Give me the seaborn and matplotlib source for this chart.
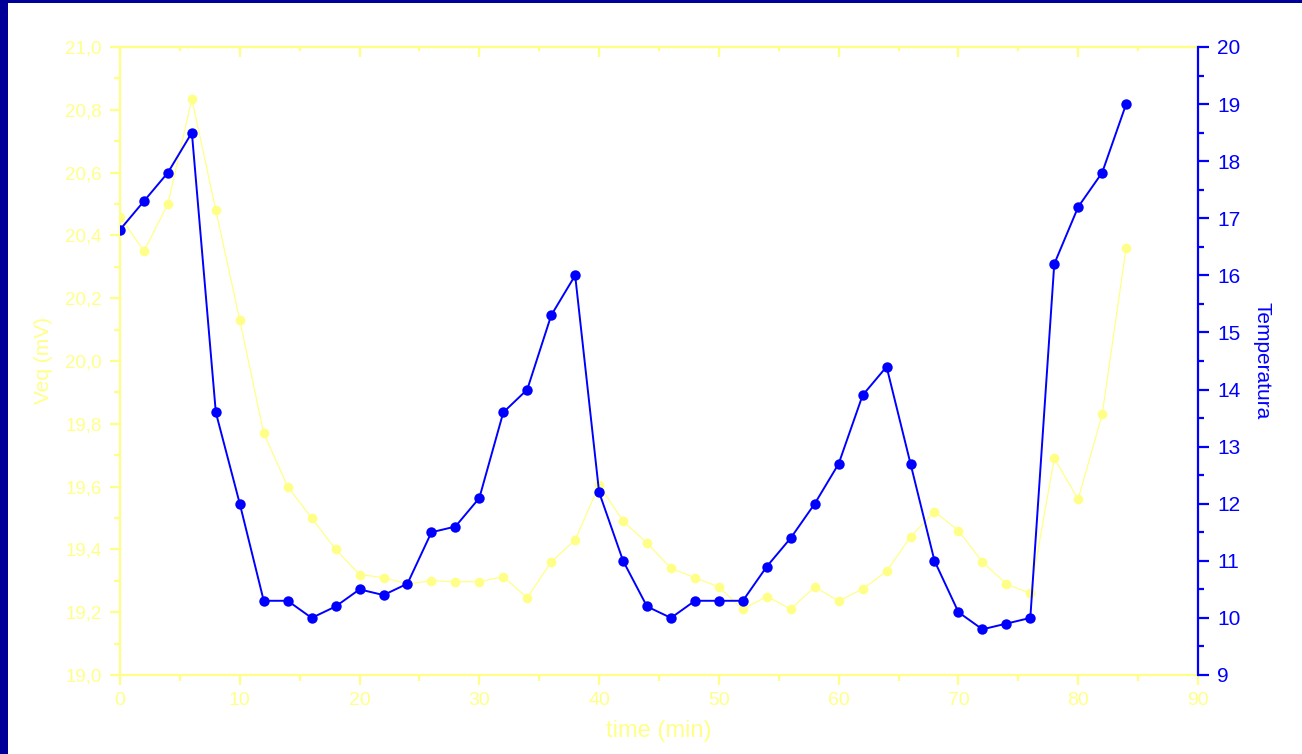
import numpy as np
import pandas as pd
import seaborn as sns
import matplotlib
matplotlib.use("Agg")
import matplotlib.pyplot as plt
from matplotlib.ticker import MultipleLocator, FuncFormatter
from matplotlib.patches import Rectangle

# Measurement times (min)
time_min = [0, 2, 4, 6, 8, 10, 12, 14, 16, 18, 20, 22, 24, 26, 28, 30, 32, 34, 36, 38,
            40, 42, 44, 46, 48, 50, 52, 54, 56, 58, 60, 62, 64, 66, 68, 70, 72, 74, 76, 78,
            80, 82, 84]

# Equilibrium potential (mV), left axis
veq_mv = [20.46, 20.35, 20.50, 20.835, 20.48, 20.13, 19.77, 19.60, 19.50, 19.40,
          19.32, 19.31, 19.29, 19.30, 19.297, 19.297, 19.313, 19.246, 19.36, 19.43,
          19.605, 19.49, 19.42, 19.34, 19.31, 19.28, 19.21, 19.25, 19.21, 19.28,
          19.236, 19.274, 19.33, 19.44, 19.52, 19.46, 19.36, 19.29, 19.26, 19.69,
          19.56, 19.83, 20.36]

# Temperature, right axis
temperatura = [16.8, 17.3, 17.8, 18.5, 13.6, 12.0, 10.3, 10.3, 10.0, 10.2,
               10.5, 10.4, 10.6, 11.5, 11.6, 12.1, 13.6, 14.0, 15.3, 16.0,
               12.2, 11.0, 10.2, 10.0, 10.3, 10.3, 10.3, 10.9, 11.4, 12.0,
               12.7, 13.9, 14.4, 12.7, 11.0, 10.1, 9.8, 9.9, 10.0, 16.2,
               17.2, 17.8, 19.0]

df = pd.DataFrame({"time": time_min, "veq": veq_mv, "temp": temperatura})

YELLOW = "#FFFF88"
BLUE = "#0000FF"
FRAME = "#000099"

sns.set_theme(style="white")
plt.rcParams["font.family"] = ["Liberation Sans", "DejaVu Sans"]

fig = plt.figure(figsize=(13.02, 7.54), dpi=100)
fig.patch.set_facecolor("white")
ax = fig.add_axes([120 / 1302, 1 - 675 / 754, (1198 - 120) / 1302, (675 - 47) / 754])
ax.set_facecolor("white")

# Dark frame along the left and top edges of the figure
fig.patches.append(Rectangle((0, 0), 8 / 1302, 1, transform=fig.transFigure,
                             facecolor=FRAME, edgecolor="none", zorder=-1))
fig.patches.append(Rectangle((0, 1 - 3 / 754), 1, 3 / 754, transform=fig.transFigure,
                             facecolor=FRAME, edgecolor="none", zorder=-1))

sns.lineplot(data=df, x="time", y="veq", ax=ax, color=YELLOW, lw=0.9,
             marker="o", markersize=7, markeredgewidth=0, markerfacecolor=YELLOW)

ax2 = ax.twinx()
sns.lineplot(data=df, x="time", y="temp", ax=ax2, color=BLUE, lw=1.4,
             marker="o", markersize=7.5, markeredgewidth=0, markerfacecolor=BLUE)

ax.set_xlim(0, 90)
ax.set_ylim(19.0, 21.0)
ax2.set_ylim(9, 20)

comma = FuncFormatter(lambda v, p: f"{v:.1f}".replace(".", ","))
ax.xaxis.set_major_locator(MultipleLocator(10))
ax.xaxis.set_minor_locator(MultipleLocator(5))
ax.yaxis.set_major_locator(MultipleLocator(0.2))
ax.yaxis.set_minor_locator(MultipleLocator(0.1))
ax.yaxis.set_major_formatter(comma)
ax2.yaxis.set_major_locator(MultipleLocator(1))
ax2.yaxis.set_minor_locator(MultipleLocator(0.5))

for a in (ax, ax2):
    for s in a.spines.values():
        s.set_visible(False)

for side in ("left", "bottom", "top"):
    ax.spines[side].set_visible(True)
    ax.spines[side].set_color(YELLOW)
    ax.spines[side].set_linewidth(1.6)
ax2.spines["right"].set_visible(True)
ax2.spines["right"].set_color(BLUE)
ax2.spines["right"].set_linewidth(1.6)

ax.tick_params(axis="both", which="major", direction="out", length=7, width=1.6,
               color=YELLOW, labelcolor=YELLOW, labelsize=14, left=True, bottom=True)
ax.tick_params(axis="y", which="major", labelsize=13.5)
ax.tick_params(axis="both", which="minor", direction="out", length=4, width=1.6,
               color=YELLOW, left=True, bottom=True)
ax.tick_params(axis="x", which="major", pad=5)
ax.tick_params(axis="y", which="major", pad=6)

ax2.tick_params(axis="y", which="major", direction="out", length=8, width=1.6,
                color=BLUE, labelcolor=BLUE, labelsize=15, right=True, pad=6)
ax2.tick_params(axis="y", which="minor", direction="out", length=4.5, width=1.6,
                color=BLUE, right=True)

# Top axis with inward ticks, no labels
top = ax.secondary_xaxis("top")
top.xaxis.set_major_locator(MultipleLocator(10))
top.xaxis.set_minor_locator(MultipleLocator(5))
top.spines["top"].set_color(YELLOW)
top.spines["top"].set_linewidth(1.6)
top.tick_params(axis="x", which="major", direction="in", length=7, width=1.6,
                color=YELLOW, labeltop=False)
top.tick_params(axis="x", which="minor", direction="in", length=3, width=1.6,
                color=YELLOW, labeltop=False)

ax.set_xlabel("time (min)", color=YELLOW, fontsize=17, labelpad=8)
ax.set_ylabel("Veq (mV)", color=YELLOW, fontsize=15, labelpad=9)
ax2.set_ylabel("Temperatura", color=BLUE, fontsize=15, rotation=270, labelpad=22)

fig.savefig("out.png", dpi=100, facecolor="white")
